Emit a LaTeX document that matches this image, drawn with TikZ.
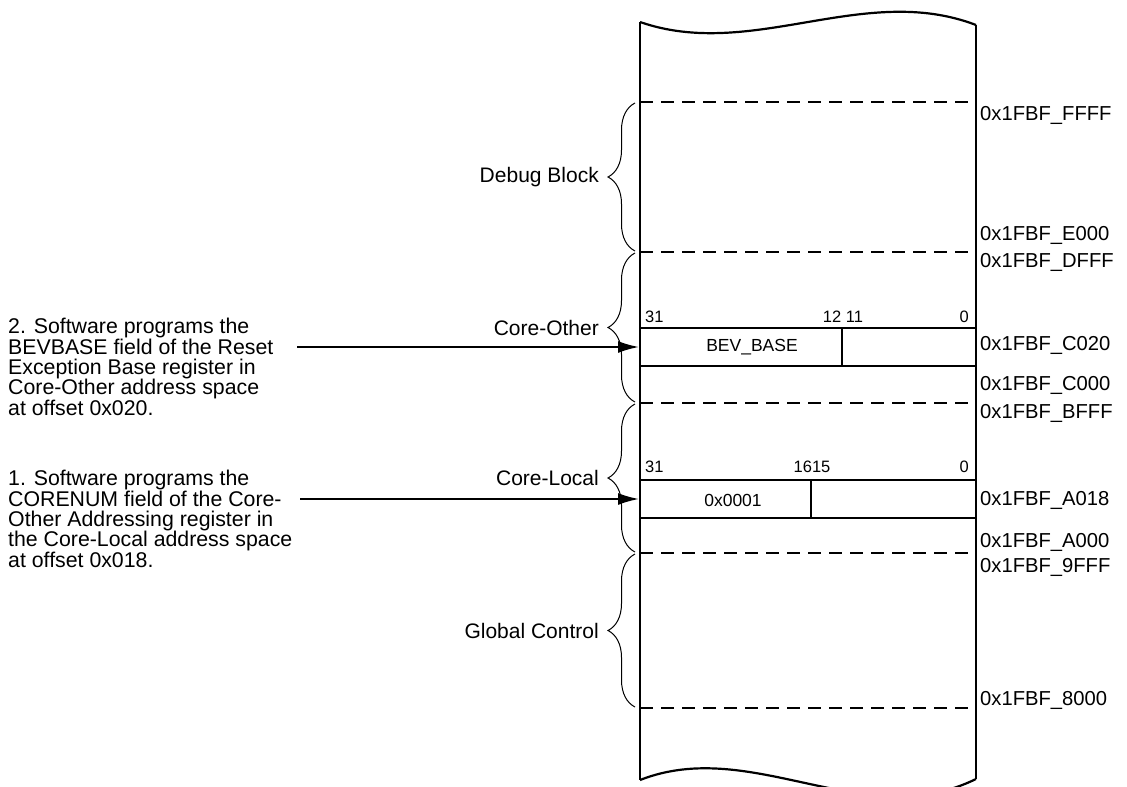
\documentclass[tikz,border=0pt]{standalone}
\usepackage{fontspec}
\setmainfont{Liberation Sans}
\usetikzlibrary{arrows.meta, positioning, decorations.pathreplacing}

\begin{document}
\begin{tikzpicture}[
    x=1pt, y=-1pt,
    memline/.style={line width=2.2pt},
    sepline/.style={line width=1.7pt, dash pattern=on 13pt off 8pt},
    rng/.style={decorate, decoration={brace, amplitude=27pt},
                line width=1pt},
    addr/.style={anchor=west, inner sep=2pt,
                 font=\fontsize{20.2}{20.2}\selectfont},
    region/.style={anchor=east, inner sep=0pt,
                   font=\fontsize{21}{21}\selectfont},
    reg/.style={draw, line width=2pt, minimum width=336pt,
                minimum height=38pt, inner sep=0pt},
    bit/.style={inner sep=0pt, font=\fontsize{16.5}{16.5}\selectfont},
    field/.style={inner sep=0pt, font=\fontsize{17.5}{17.5}\selectfont},
    note/.style={anchor=north west, align=left, inner sep=0pt,
                 font=\fontsize{21.3}{19.6}\selectfont},
    pointer/.style={-{Latex[length=21pt, width=12pt]}, line width=2pt}
  ]
  \useasboundingbox (0,0) rectangle (1127,787);

  % memory column with torn ends
  \draw[memline] (640,22) .. controls (752,61) and (864,-18) .. (976,25);
  \draw[memline] (640,780) .. controls (752,736) and (864,834) .. (976,779);
  \draw[memline] (640,22) -- (640,780);
  \draw[memline] (976,25) -- (976,779);

  % block boundaries
  \foreach \y in {102,252,403,553,708}
    \draw[sepline] (640,\y) -- (976,\y);

  % address labels
  \foreach \y/\a in {115/FFFF, 235/E000, 262/DFFF, 345/C020, 385/C000,
                     413/BFFF, 500/A018, 542/A000, 567/9FFF, 700/8000}
    \node[addr] (a\a) at (978,\y) {0x1FBF\_\a};

  % braces for the blocks
  \foreach \ya/\yb/\name/\txt in {102/252/dbg/Debug Block,
                                  252/403/oth/Core-Other,
                                  403/553/loc/Core-Local,
                                  553/708/glb/Global Control} {
    \draw[rng] (635,\yb-1) -- (635,\ya+1);
    \coordinate (\name) at (608,{(\ya+\yb)/2});
    \node[region, left=9pt of \name] (\name lbl) {\txt};
  }

  % Reset Exception Base register
  \node[reg] (regC) at (808,347) {};
  \draw[line width=2pt] ([xshift=34pt]regC.north) -- ([xshift=34pt]regC.south);
  \node[field] (bevbase) at (752,347) {BEV\_BASE};
  \node[bit, anchor=west] (c31) at (645,317) {31};
  \node[bit] (c12) at (843,317) {12 11};
  \node[bit, anchor=east] (c0) at (969,317) {0};

  % Core-Other Addressing register
  \node[reg] (regL) at (808,499) {};
  \draw[line width=2pt] ([xshift=3pt]regL.north) -- ([xshift=3pt]regL.south);
  \node[field] (corenum) at (733,500) {0x0001};
  \node[bit, anchor=west] (l31) at (645,467) {31};
  \node[bit] (l16) at (812,467) {1615};
  \node[bit, anchor=east] (l0) at (969,467) {0};

  % notes
  \node[note] (note2) at (8,318) {2. Software programs the\\
    BEVBASE field of the Reset\\Exception Base register in\\
    Core-Other address space\\at offset 0x020.};
  \node[note] (note1) at (8,470) {1. Software programs the\\
    CORENUM field of the Core-\\Other Addressing register in\\
    the Core-Local address space\\at offset 0x018.};

  \coordinate (src2) at (297,347);
  \coordinate (src1) at (300,499);
  \draw[pointer] (src2) -- (regC.west);
  \draw[pointer] (src1) -- (regL.west);
\end{tikzpicture}
\end{document}
